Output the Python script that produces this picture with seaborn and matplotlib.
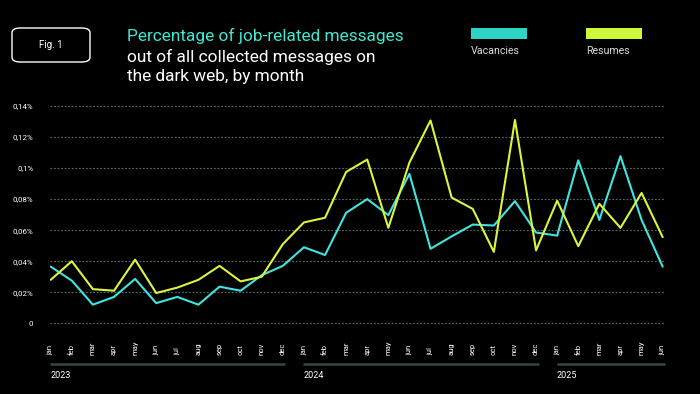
import pandas as pd
import matplotlib.pyplot as plt
import seaborn as sns
from matplotlib.patches import FancyBboxPatch, Rectangle

# data (% of all collected messages)
months = ['jan', 'feb', 'mar', 'apr', 'may', 'jun', 'jul', 'aug', 'sep', 'oct', 'nov', 'dec'] * 2 + \
         ['jan', 'feb', 'mar', 'apr', 'may', 'jun']
years = ['2023'] * 12 + ['2024'] * 12 + ['2025'] * 6
vacancies = [0.0365, 0.0275, 0.012, 0.017, 0.0286, 0.013, 0.017, 0.012, 0.0236, 0.021,
             0.031, 0.037, 0.049, 0.044, 0.0712, 0.080, 0.0697, 0.0963, 0.048, 0.056,
             0.0636, 0.063, 0.0787, 0.0585, 0.0565, 0.105, 0.0666, 0.1077, 0.0666, 0.0365]
resumes = [0.028, 0.040, 0.022, 0.021, 0.041, 0.0195, 0.023, 0.028, 0.037, 0.027,
           0.030, 0.051, 0.065, 0.068, 0.0975, 0.1055, 0.0615, 0.1036, 0.1307, 0.081,
           0.0737, 0.046, 0.131, 0.047, 0.079, 0.0497, 0.077, 0.0615, 0.084, 0.0555]
y_ticks = [0, 0.02, 0.04, 0.06, 0.08, 0.10, 0.12, 0.14]
y_labels = ['0', '0,02%', '0,04%', '0,06%', '0,08%', '0,1%', '0,12%', '0,14%']

CYAN = '#3fe6df'
YELLOW = '#dcf53b'
BG = '#000000'

n = len(months)
df = pd.DataFrame({
    'idx': list(range(n)) * 2,
    'value': vacancies + resumes,
    'series': ['Vacancies'] * n + ['Resumes'] * n,
})

sns.set_style('dark', {'axes.facecolor': BG, 'figure.facecolor': BG})
plt.rcParams['font.family'] = ['Roboto', 'DejaVu Sans']

fig = plt.figure(figsize=(7, 3.94), dpi=100)
ax = fig.add_axes([50 / 700, (394 - 324.85) / 394, 615 / 700, 220.4 / 394])
ax.set_facecolor(BG)

sns.lineplot(data=df, x='idx', y='value', hue='series',
             palette={'Vacancies': CYAN, 'Resumes': YELLOW},
             hue_order=['Vacancies', 'Resumes'], linewidth=1.5, ax=ax, legend=False)

ax.set_xlim(-0.033, 29.11)
ax.set_ylim(-0.001, 0.141)
ax.set_yticks(y_ticks)
ax.set_yticklabels(y_labels)
ax.set_xticks([])
ax.set_xlabel('')
ax.set_ylabel('')
ax.tick_params(axis='y', length=0, pad=12, labelsize=5.7, labelcolor='white')
for s in ax.spines.values():
    s.set_visible(False)
for t in y_ticks:
    ax.axhline(t, color='#4f6e6e', lw=0.8, ls=(0, (1.6, 1.6)), zorder=0)

# month labels, bottom-aligned and rotated
tr = ax.get_xaxis_transform()
for i, m in enumerate(months):
    ax.text(i, -0.136, m, rotation=90, ha='center', va='bottom', fontsize=5.5,
            color='white', transform=tr)

# year separators
for y in ['2023', '2024', '2025']:
    idx = [i for i, v in enumerate(years) if v == y]
    ax.plot([idx[0] - 0.03, idx[-1] + 0.12], [-0.177, -0.177], color='#344848', lw=1.8,
            transform=tr, clip_on=False, solid_capstyle='butt')
    ax.text(idx[0] - 0.03, -0.228, y, ha='left', va='center', fontsize=6.5,
            color='white', transform=tr)

# Fig. 1 badge
fig.patches.append(FancyBboxPatch((12 / 700, (394 - 62) / 394), 78 / 700, 34 / 394,
                                  boxstyle='round,pad=0,rounding_size=0.012',
                                  transform=fig.transFigure, fc='none', ec='white', lw=1))
fig.text(51 / 700, 1 - 45 / 394, 'Fig. 1', ha='center', va='center', fontsize=7, color='white')

# title
fig.text(127 / 700, 1 - 36 / 394, 'Percentage of job-related messages', ha='left', va='center',
         fontsize=12.4, color='#3fe8d2')
fig.text(127 / 700, 1 - 57 / 394, 'out of all collected messages on', ha='left', va='center',
         fontsize=12.4, color='white')
fig.text(127 / 700, 1 - 77 / 394, 'the dark web, by month', ha='left', va='center',
         fontsize=12.4, color='white')

# legend
for x0, label, col in [(471, 'Vacancies', '#2fd3c3'), (586, 'Resumes', '#cdf73a')]:
    fig.patches.append(Rectangle((x0 / 700, 1 - 39 / 394), 56 / 700, 11 / 394,
                                 transform=fig.transFigure, fc=col, ec='none'))
    fig.text(x0 / 700, 1 - 51 / 394, label, ha='left', va='center', fontsize=7.7, color='#dcdcdc')

fig.savefig('out.png', dpi=100, facecolor=BG)
